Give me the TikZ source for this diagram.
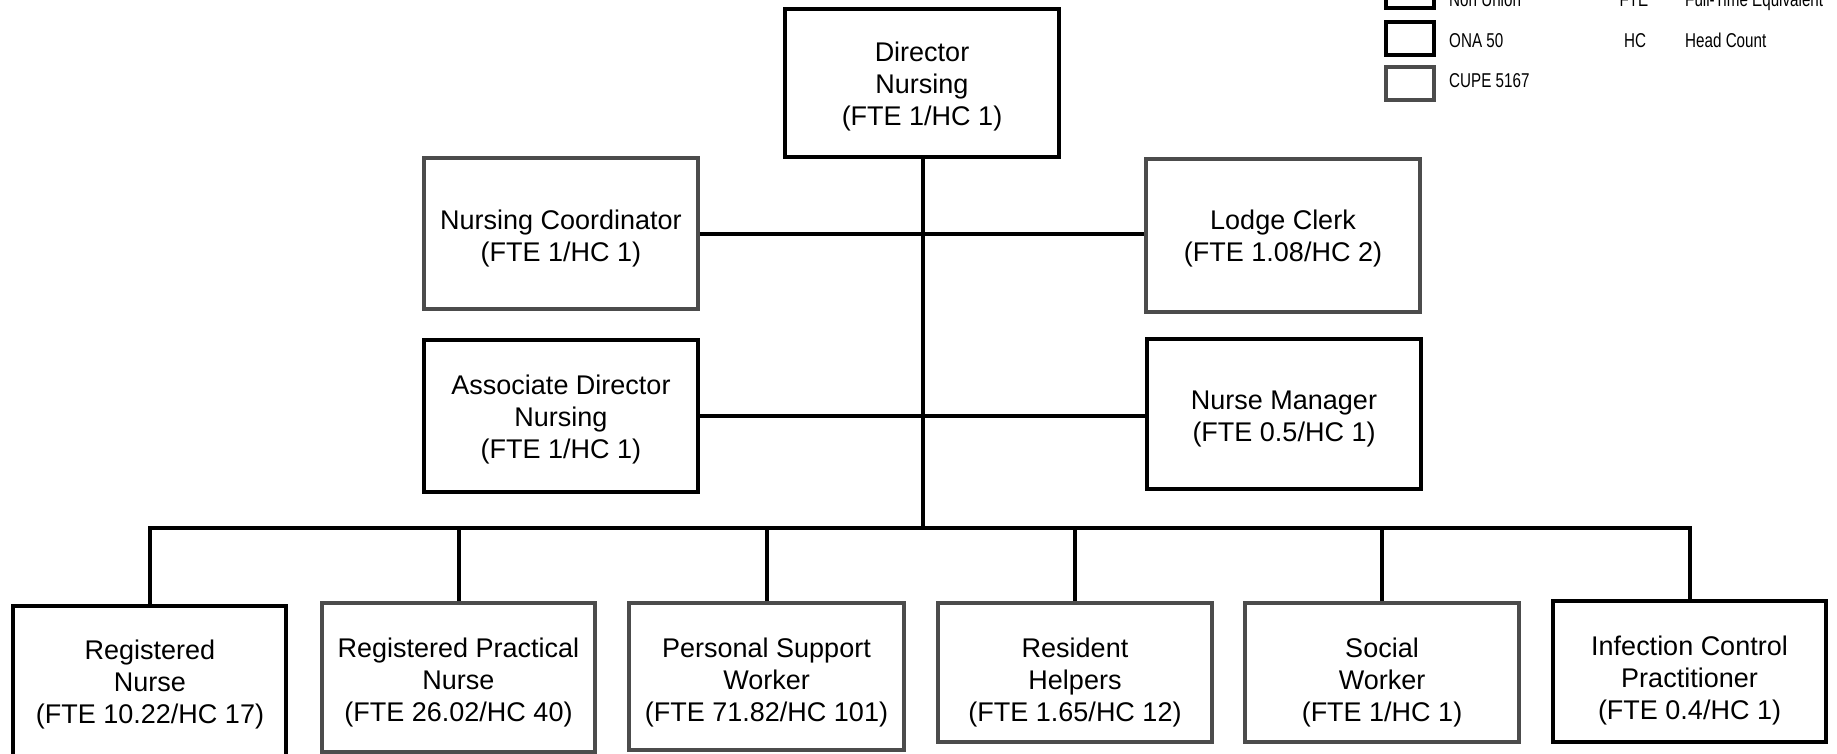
\documentclass[tikz,border=0pt]{standalone}
\usepackage{fontspec}
\setmainfont{Liberation Sans}
\newfontfamily\legendfont{Liberation Sans}[FakeStretch=0.76]
\begin{document}
\begin{tikzpicture}[x=1pt,y=-1pt,
  nonunion/.style={draw=black,line width=4.5pt,rectangle,inner sep=0pt},
  ona/.style={draw=black,line width=4pt,rectangle,inner sep=0pt},
  cupe/.style={draw=black!70,line width=3.8pt,rectangle,inner sep=0pt},
  boxtext/.style={align=center,inner sep=0pt,yshift=-3.5pt,font=\fontsize{27}{32}\selectfont},
  leg/.style={inner sep=0pt,font=\legendfont\fontsize{20}{24}\selectfont},
  conn/.style={line width=4pt,black}]
\useasboundingbox (0,0) rectangle (1837,753);
% legend
\node[nonunion,minimum width=48pt,minimum height=33pt] (l1) at (1410,-8.5) {};
\node[ona,line width=4pt,minimum width=48pt,minimum height=33pt] (l2) at (1410,38.5) {};
\node[cupe,line width=3.2pt,minimum width=48pt,minimum height=33pt] (l3) at (1410,83.5) {};
\node[leg,anchor=base west] (t1) at (1449,6) {Non Union};
\node[leg,anchor=base west] (t2) at (1449,47) {ONA 50};
\node[leg,anchor=base west] (t3) at (1449,87) {CUPE 5167};
\node[leg,anchor=base] (a1) at (1634,6) {FTE};
\node[leg,anchor=base] (a2) at (1635,47) {HC};
\node[leg,anchor=base west] (d1) at (1685,6) {Full-Time Equivalent};
\node[leg,anchor=base west] (d2) at (1685,47) {Head Count};
% top
\node[nonunion,minimum width=274pt,minimum height=148pt] (dir) at (922,83) {};
\node[boxtext] (dirt) at (dir.center) {Director\\Nursing\\(FTE 1/HC 1)};
\node[cupe,minimum width=274pt,minimum height=151pt] (nc) at (561,233.5) {};
\node[boxtext] (nct) at (561,235) {Nursing Coordinator\\(FTE 1/HC 1)};
\node[cupe,minimum width=274pt,minimum height=153pt] (lc) at (1283,235.5) {};
\node[boxtext] (lct) at (1283,235) {Lodge Clerk\\(FTE 1.08/HC 2)};
\node[nonunion,minimum width=274pt,minimum height=152pt] (ad) at (561,416) {};
\node[boxtext] (adt) at (ad.center) {Associate Director\\Nursing\\(FTE 1/HC 1)};
\node[nonunion,minimum width=274pt,minimum height=150pt] (nm) at (1284,414) {};
\node[boxtext] (nmt) at (1284,415.5) {Nurse Manager\\(FTE 0.5/HC 1)};
% bottom
\node[ona,minimum width=273pt,minimum height=156pt] (rn) at (149.5,684) {};
\node[boxtext] (rnt) at (150,681) {Registered\\Nurse\\(FTE 10.22/HC 17)};
\node[cupe,minimum width=273pt,minimum height=149pt] (rpn) at (458.5,677.5) {};
\node[boxtext] (rpnt) at (458.5,679) {Registered Practical\\Nurse\\(FTE 26.02/HC 40)};
\node[cupe,minimum width=275pt,minimum height=147pt] (psw) at (766.5,676.5) {};
\node[boxtext] (pswt) at (766.5,679) {Personal Support\\Worker\\(FTE 71.82/HC 101)};
\node[cupe,minimum width=274pt,minimum height=139pt] (rh) at (1075,672.5) {};
\node[boxtext] (rht) at (1075,679) {Resident\\Helpers\\(FTE 1.65/HC 12)};
\node[cupe,minimum width=274pt,minimum height=139pt] (sw) at (1382,672.5) {};
\node[boxtext] (swt) at (1382,679) {Social\\Worker\\(FTE 1/HC 1)};
\node[ona,minimum width=273pt,minimum height=141pt] (icp) at (1689.5,671.5) {};
\node[boxtext] (icpt) at (1689.5,677) {Infection Control\\Practitioner\\(FTE 0.4/HC 1)};
% connectors
\coordinate (bus) at (923,528);
\draw[conn] (dir.south -| bus) -- (bus);
\draw[conn] (nc.east) -- (nc.east -| lc.west);
\draw[conn] (ad.east) -- (ad.east -| nm.west);
\draw[conn] (rn.north) -- (rn.north |- bus) -- (icp.north |- bus) -- (icp.north);
\foreach \b in {rpn,psw,rh,sw} \draw[conn] (\b.north) -- (\b.north |- bus);
\end{tikzpicture}
\end{document}
